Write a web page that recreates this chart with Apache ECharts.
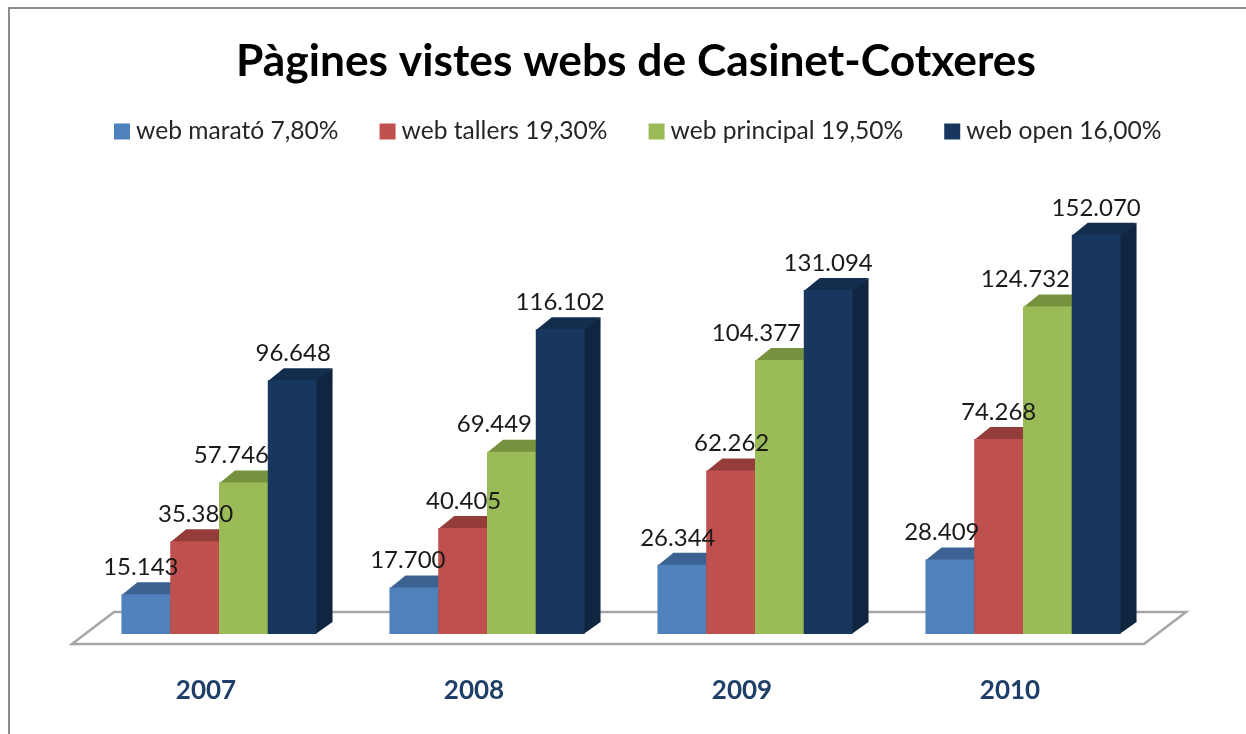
<!DOCTYPE html>
<html><head><meta charset="utf-8">
<style>html,body{margin:0;padding:0;background:#fff}#c{width:1246px;height:734px}</style>
<script src="https://cdn.jsdelivr.net/npm/echarts@6/dist/echarts.min.js"></script>
</head><body><div id="c"></div>
<script>
const titleText = 'Pàgines vistes webs de Casinet-Cotxeres';
const years = ['2007', '2008', '2009', '2010'];
const webMarato = [15143, 17700, 26344, 28409];
const webTallers = [35380, 40405, 62262, 74268];
const webPrincipal = [57746, 69449, 104377, 124732];
const webOpen = [96648, 116102, 131094, 152070];
const seriesNames = ['web marató 7,80%', 'web tallers 19,30%', 'web principal 19,50%', 'web open 16,00%'];
const seriesValues = [webMarato, webTallers, webPrincipal, webOpen];

// styling
const frontColors = ['#4F81BD', '#C0504D', '#9BBB59', '#17375E'];
const topColors = ['#3B6291', '#933C3A', '#76923F', '#132D4E'];
const sideColors = ['#33557E', '#7F3432', '#657E36', '#10253F'];
const labelNudgeX = [[-5, 1, -12, 1], [-6, 1, -17, 0], [-4, 1, -23, 0], [-8, 0, -22, 0]];
const DX = 16, DY = 12;
const BAR_FRAC = 0.182, SHIFT = 13;
const FONT = 'Lato, Carlito, "Open Sans", sans-serif';

function barRect(api, s) {
  const cat = api.value(0), val = api.value(1);
  const band = api.size([1, 0])[0];
  const w = band * BAR_FRAC;
  const top = api.coord([cat, val]);
  const base = api.coord([cat, 0]);
  const x = top[0] + SHIFT - 2 * w + s * w;
  return { x, w, top: top[1], base: base[1] };
}

function barSeries(s) {
  return {
    type: 'custom',
    name: seriesNames[s],
    z: 3,
    itemStyle: { color: frontColors[s] },
    encode: { x: 0, y: 1 },
    data: years.map((y, i) => [i, seriesValues[s][i]]),
    clip: false,
    renderItem(params, api) {
      const b = barRect(api, s);
      const r = b.x + b.w;
      return {
        type: 'group',
        children: [
          { type: 'polygon', shape: { points: [[r - 1, b.top], [r + DX, b.top - DY], [r + DX, b.base - DY], [r - 1, b.base]] }, style: { fill: sideColors[s] } },
          { type: 'polygon', shape: { points: [[b.x, b.top + 1], [b.x + DX, b.top - DY], [r + DX, b.top - DY], [r, b.top + 1]] }, style: { fill: topColors[s] } },
          { type: 'rect', shape: { x: b.x, y: b.top, width: b.w, height: b.base - b.top }, style: { fill: frontColors[s] } }
        ]
      };
    }
  };
}

function labelSeries(s) {
  return {
    type: 'custom',
    name: 'labels ' + s,
    z: 6,
    silent: true,
    encode: { x: 0, y: 1 },
    data: years.map((y, i) => [i, seriesValues[s][i]]),
    clip: false,
    renderItem(params, api) {
      const b = barRect(api, s);
      const i = params.dataIndex;
      const txt = String(api.value(1)).replace(/(\d)(\d{3})$/, '$1.$2');
      return {
        type: 'text',
        style: {
          x: b.x + b.w / 2 + labelNudgeX[i][s],
          y: b.top - 27,
          text: txt,
          font: '24px ' + FONT,
          fill: '#1a1a1a',
          align: 'center',
          verticalAlign: 'middle'
        }
      };
    }
  };
}

const floorSeries = {
  type: 'custom',
  name: 'floor',
  z: 1,
  silent: true,
  encode: { x: 0, y: 1 },
  data: [[0, 0]],
  clip: false,
  renderItem(params, api) {
    const cs = params.coordSys;
    const base = api.coord([0, 0])[1];
    const l = cs.x, r = cs.x + cs.width;
    return {
      type: 'polygon',
      shape: { points: [[l, base + 10], [r, base + 10], [r + 42, base - 22], [l + 42, base - 22]] },
      style: { fill: '#fff', stroke: '#A6A6A6', lineWidth: 2.5, lineJoin: 'miter' }
    };
  }
};

const chart = echarts.init(document.getElementById('c'), null, { renderer: 'canvas' });
chart.setOption({
  animation: false,
  backgroundColor: '#fff',
  title: {
    text: titleText, left: 631, top: 35, textAlign: 'center',
    textStyle: { fontFamily: FONT, fontWeight: 'bold', fontSize: 44.3, color: '#000' }
  },
  legend: {
    data: seriesNames, left: 114, top: 119, padding: 0, itemWidth: 16, itemHeight: 16, itemGap: 41, icon: 'rect',
    textStyle: { fontFamily: FONT, fontSize: 24.6, color: '#262626', padding: [0, 0, 0, 1] }
  },
  grid: { left: 72, width: 1072, top: 214, height: 420 },
  xAxis: {
    type: 'category', data: years,
    axisLine: { show: false }, axisTick: { show: false },
    axisLabel: { margin: 44, fontFamily: FONT, fontSize: 26, fontWeight: 'bold', color: '#1F3F68' }
  },
  yAxis: { type: 'value', min: 0, max: 160000, interval: 40000, show: false },
  graphic: [{
    type: 'polyline', silent: true, z: 0,
    shape: { points: [[9, 740], [9, 8], [1250, 8]] },
    style: { fill: 'none', stroke: '#8C8C8C', lineWidth: 2 }
  }],
  series: [floorSeries, ...[0, 1, 2, 3].map(barSeries), ...[0, 1, 2, 3].map(labelSeries)]
});
</script></body></html>
